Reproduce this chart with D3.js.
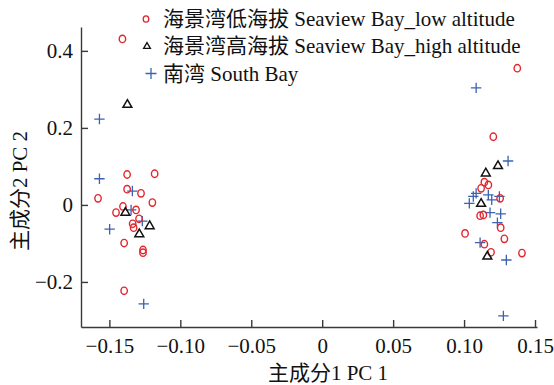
<!DOCTYPE html>
<html>
<head>
<meta charset="utf-8">
<script src="https://cdn.jsdelivr.net/npm/d3@7/dist/d3.min.js"></script>
<style>
  html, body { margin: 0; padding: 0; background: #fff; }
  svg { display: block; }
  text { font-family: "Liberation Serif", "Times New Roman", "Noto Sans CJK SC", serif; fill: #111; }
</style>
</head>
<body>
<svg id="chart" width="554" height="385"></svg>
<script>
// PCA scores (PC1, PC2) for each sampling group
const lowAltPC1  = [-0.1408, -0.1375, -0.1181, -0.1375, -0.1277, -0.1580, -0.1197, -0.1404, -0.1453, -0.1312, -0.1291, -0.1336, -0.1329, -0.1396, -0.1263, -0.1263, -0.1396,
                     0.1375,  0.1206,  0.1143,  0.1171,  0.1120,  0.1254,  0.1113,  0.1136,  0.1258,  0.1007,  0.1284,  0.1143,  0.1190,  0.1408];
const lowAltPC2  = [ 0.431,  0.079,  0.081,  0.041,  0.030,  0.017,  0.006, -0.004, -0.020, -0.013, -0.036, -0.049, -0.059, -0.099, -0.117, -0.124, -0.223,
                     0.355,  0.177,  0.059,  0.052,  0.043,  0.017, -0.028, -0.026, -0.059, -0.074, -0.088, -0.102, -0.123, -0.125];
const highAltPC1 = [-0.1373, -0.1387, -0.1216, -0.1289, 0.1239, 0.1153, 0.1120, 0.1164];
const highAltPC2 = [ 0.260, -0.020, -0.055, -0.076, 0.101, 0.082, 0.003, -0.134];
const southPC1   = [-0.1570, -0.1570, -0.1338, -0.1347, -0.1268, -0.1498, -0.1258,
                     0.1085,  0.1310,  0.1085,  0.1065,  0.1171,  0.1037,  0.1195,  0.1249,  0.1183,  0.1258,  0.1235,  0.1113,  0.1298,  0.1277];
const southPC2   = [ 0.223,  0.068,  0.036, -0.013, -0.042, -0.063, -0.257,
                     0.304,  0.114,  0.030,  0.022,  0.026,  0.004,  0.013,  0.022, -0.020, -0.023, -0.046, -0.098, -0.143, -0.288];

const seriesNames = ["海景湾低海拔 Seaview Bay_low altitude", "海景湾高海拔 Seaview Bay_high altitude", "南湾 South Bay"];

const xTicks = [-0.15, -0.10, -0.05, 0, 0.05, 0.10, 0.15];
const xTickLabels = ["\u22120.15", "\u22120.10", "\u22120.05", "0", "0.05", "0.10", "0.15"];
const yTicks = [-0.2, 0, 0.2, 0.4];
const yTickLabels = ["\u22120.2", "0", "0.2", "0.4"];

const xTitle = "主成分1 PC 1";
const yTitle = "主成分2 PC 2";

const svg = d3.select("#chart");
const plot = { left: 81, right: 537, top: 27, bottom: 327 };

const x = d3.scaleLinear().domain([-0.17, 0.1514]).range([plot.left, plot.right]);
const y = d3.scaleLinear().domain([-0.317, 0.462]).range([plot.bottom, plot.top]);

const axisColor = "#3a3a3a";

// Bottom axis, ticks pointing into the plot
const gx = svg.append("g")
  .attr("transform", `translate(0,${plot.bottom})`)
  .call(d3.axisBottom(x).tickValues(xTicks)
    .tickFormat((d, i) => xTickLabels[i])
    .tickSizeInner(-7).tickSizeOuter(0).tickPadding(11));

// Left axis, ticks pointing into the plot
const gy = svg.append("g")
  .attr("transform", `translate(${plot.left},0)`)
  .call(d3.axisLeft(y).tickValues(yTicks)
    .tickFormat((d, i) => yTickLabels[i])
    .tickSizeInner(-7).tickSizeOuter(0).tickPadding(8));

[gx, gy].forEach(g => {
  g.select(".domain").attr("stroke", axisColor).attr("stroke-width", 1.4);
  g.selectAll(".tick line").attr("stroke", axisColor).attr("stroke-width", 1.4);
  g.selectAll(".tick text")
    .attr("font-family", "\"Liberation Serif\", \"Times New Roman\", serif")
    .attr("font-size", 21).attr("fill", "#111");
});

// Axis titles
svg.append("text")
  .attr("x", 328).attr("y", 380)
  .attr("text-anchor", "middle").attr("font-size", 21)
  .text(xTitle);

svg.append("text")
  .attr("transform", "translate(27,191) rotate(-90)")
  .attr("text-anchor", "middle").attr("font-size", 21)
  .text(yTitle);

// Marker styles
const red = "#e3262d", blue = "#3b63b0", black = "#111";
const triPath = d3.symbol().type(d3.symbolTriangle).size(34)();
const crossPath = r => `M${-r},0H${r}M0,${-r}V${r}`;

const marks = svg.append("g");

// South Bay (+)
marks.selectAll("path.south")
  .data(d3.zip(southPC1, southPC2))
  .join("path").attr("class", "south")
  .attr("d", crossPath(5.2))
  .attr("transform", d => `translate(${x(d[0])},${y(d[1])})`)
  .attr("fill", "none").attr("stroke", blue).attr("stroke-width", 1.3);

// Seaview Bay low altitude (o)
marks.selectAll("ellipse.low")
  .data(d3.zip(lowAltPC1, lowAltPC2))
  .join("ellipse").attr("class", "low")
  .attr("cx", d => x(d[0])).attr("cy", d => y(d[1]))
  .attr("rx", 3.2).attr("ry", 3.7)
  .attr("fill", "none").attr("stroke", red).attr("stroke-width", 1.4);

// Seaview Bay high altitude (triangle)
marks.selectAll("path.high")
  .data(d3.zip(highAltPC1, highAltPC2))
  .join("path").attr("class", "high")
  .attr("d", triPath)
  .attr("transform", d => `translate(${x(d[0])},${y(d[1])})`)
  .attr("fill", "none").attr("stroke", black).attr("stroke-width", 1.5)
  .attr("stroke-linejoin", "miter");

// Legend
const legend = svg.append("g");
const legendRows = [26, 53, 80.5];
const legendTextX = 163;

legend.append("ellipse")
  .attr("cx", 146).attr("cy", legendRows[0] - 7)
  .attr("rx", 2.8).attr("ry", 3.2)
  .attr("fill", "none").attr("stroke", red).attr("stroke-width", 1.3);
legend.append("path")
  .attr("d", d3.symbol().type(d3.symbolTriangle).size(20)())
  .attr("transform", `translate(147,${legendRows[1] - 6.5})`)
  .attr("fill", "none").attr("stroke", black).attr("stroke-width", 1.3);
legend.append("path")
  .attr("d", crossPath(5.5))
  .attr("transform", `translate(151,${legendRows[2] - 7})`)
  .attr("fill", "none").attr("stroke", blue).attr("stroke-width", 1.3);

legend.selectAll("text.lg")
  .data(seriesNames)
  .join("text").attr("class", "lg")
  .attr("x", legendTextX).attr("y", (d, i) => legendRows[i])
  .attr("font-size", 21)
  .text(d => d);
</script>
</body>
</html>
